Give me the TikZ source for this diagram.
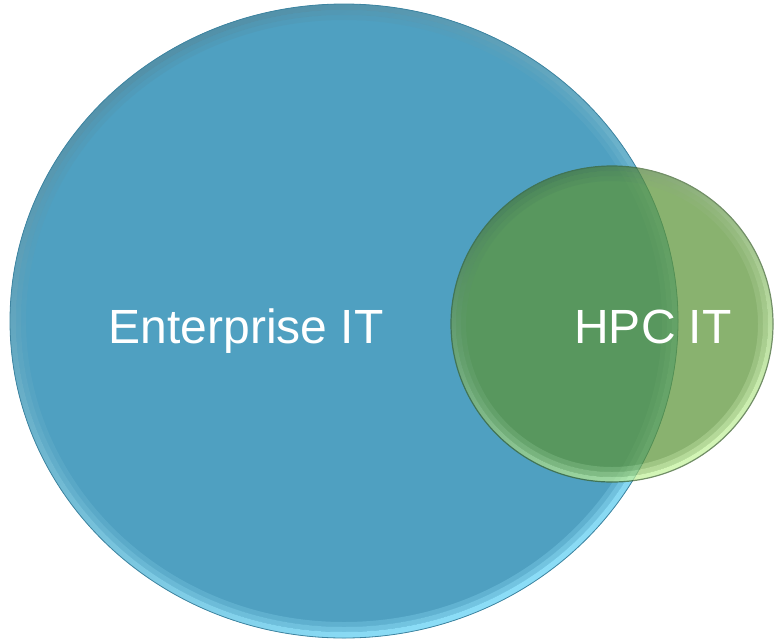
\documentclass[tikz,border=0pt]{standalone}
\usepackage{fontspec}
\setmainfont{Liberation Sans}
\begin{document}
\begin{tikzpicture}[x=1pt,y=-1pt,
  setlabel/.style={text=white,font=\fontsize{48}{58}\selectfont,anchor=base,inner sep=0pt},
  bluerim/.style={even odd rule, top color=bluetop, middle color=bluefill, bottom color=bluebottom, shading angle=25},
  greenrim/.style={even odd rule, top color=greentop, middle color=greenfill, bottom color=greenbottom, shading angle=25}]
\definecolor{bluefill}{RGB}{79,160,193}
\definecolor{bluetop}{RGB}{82,144,168}
\definecolor{bluebottom}{RGB}{140,222,248}
\definecolor{blueedge}{RGB}{62,132,160}
\definecolor{greenfill}{RGB}{92,148,56}
\definecolor{greentop}{RGB}{72,120,52}
\definecolor{greenbottom}{RGB}{196,244,156}
\definecolor{greenedge}{RGB}{60,100,45}

\useasboundingbox (0,0) rectangle (775,640);

\coordinate (bc) at (344,321);
\coordinate (gc) at (612,324);

% large set with a soft bevelled rim
\fill[bluefill] (bc) ellipse [x radius=334pt, y radius=317pt];
\begin{scope}
  \clip (bc) ellipse [x radius=334pt, y radius=317pt];
  \shade[bluerim]
    (bc) ellipse [x radius=334pt, y radius=317pt]
    (bc) ellipse [x radius=328pt, y radius=311pt];
  \shade[bluerim, opacity=0.6]
    (bc) ellipse [x radius=328pt, y radius=311pt]
    (bc) ellipse [x radius=323pt, y radius=306pt];
  \shade[bluerim, opacity=0.3]
    (bc) ellipse [x radius=323pt, y radius=306pt]
    (bc) ellipse [x radius=318pt, y radius=301pt];
\end{scope}
\draw[blueedge, line width=0.8pt] (bc) ellipse [x radius=334pt, y radius=317pt];

% small set, translucent
\begin{scope}[transparency group, opacity=0.72]
  \fill[greenfill] (gc) ellipse [x radius=161pt, y radius=158pt];
  \begin{scope}
    \clip (gc) ellipse [x radius=161pt, y radius=158pt];
    \shade[greenrim]
      (gc) ellipse [x radius=161pt, y radius=158pt]
      (gc) ellipse [x radius=156pt, y radius=153pt];
    \shade[greenrim, opacity=0.6]
      (gc) ellipse [x radius=156pt, y radius=153pt]
      (gc) ellipse [x radius=151pt, y radius=148pt];
    \shade[greenrim, opacity=0.3]
      (gc) ellipse [x radius=151pt, y radius=148pt]
      (gc) ellipse [x radius=146pt, y radius=143pt];
  \end{scope}
  \draw[greenedge, line width=1.2pt] (gc) ellipse [x radius=161pt, y radius=158pt];
\end{scope}

\node[setlabel] (ent) at (246,343) {Enterprise IT};
\node[setlabel] (hpc) at (653,343) {HPC IT};
\end{tikzpicture}
\end{document}
